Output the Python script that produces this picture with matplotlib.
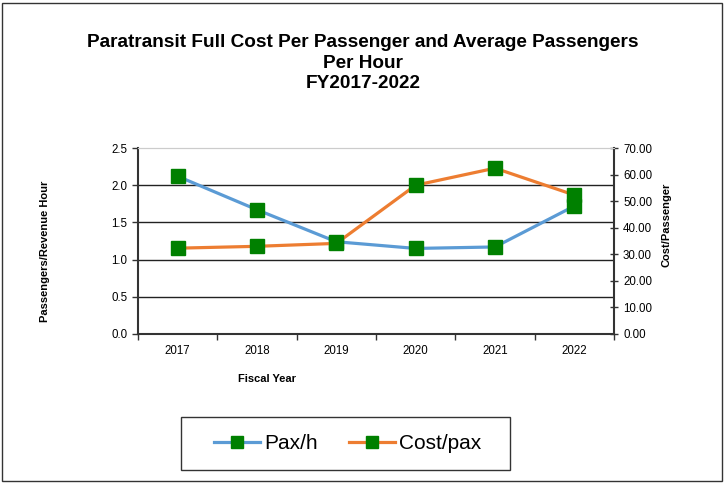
import matplotlib
matplotlib.use("Agg")
import matplotlib.pyplot as plt
from matplotlib.ticker import FormatStrFormatter, FixedLocator
from matplotlib.patches import Rectangle

years = ["2017", "2018", "2019", "2020", "2021", "2022"]
pax_per_hour = [2.12, 1.67, 1.24, 1.15, 1.17, 1.72]
cost_per_pax = [32.3, 33.0, 34.1, 56.0, 62.4, 52.3]

title = "Paratransit Full Cost Per Passenger and Average Passengers\nPer Hour\nFY2017-2022"
left_label = "Passengers/Revenue Hour"
right_label = "Cost/Passenger"
x_label = "Fiscal Year"
series_names = ["Pax/h", "Cost/pax"]

plt.rcParams['font.family'] = ['Liberation Sans', 'DejaVu Sans']

fig = plt.figure(figsize=(7.25, 4.83), dpi=100)
ax = fig.add_axes([138/725, 1-334/483, (614-138)/725, (334-148)/483])
ax2 = ax.twinx()

x = list(range(len(years)))
blue = "#5B9BD5"
orange = "#ED7D31"
green = "#008000"

l1, = ax.plot(x, pax_per_hour, color=blue, lw=2.3, marker="s", ms=10,
              mfc=green, mec=green, zorder=3)
l2, = ax2.plot(x, cost_per_pax, color=orange, lw=2.3, marker="s", ms=10,
               mfc=green, mec=green, zorder=3)

ax.set_xlim(-0.5, len(years) - 0.5)
ax.set_ylim(0, 2.5)
ax2.set_ylim(0, 70)
ax.set_yticks([0, 0.5, 1.0, 1.5, 2.0, 2.5])
ax.yaxis.set_major_formatter(FormatStrFormatter("%.1f"))
ax2.set_yticks(range(0, 71, 10))
ax2.yaxis.set_major_formatter(FormatStrFormatter("%.2f"))

ax.set_xticks(x)
ax.set_xticklabels(years)
ax.xaxis.set_minor_locator(FixedLocator([i - 0.5 for i in range(len(years) + 1)]))
ax.tick_params(axis="x", which="major", length=0, labelsize=8.3, pad=8)
ax.tick_params(axis="x", which="minor", length=4, width=1, direction="out", color="#333333")
ax.tick_params(axis="y", labelsize=8.3, length=4, width=1, direction="out", color="#333333")
ax2.tick_params(axis="y", labelsize=8.3, length=6, width=1, direction="inout", color="#333333")

for yv in [0.5, 1.0, 1.5, 2.0]:
    ax.axhline(yv, color="#222222", lw=1, zorder=1)

for s in ["left", "bottom"]:
    ax.spines[s].set_linewidth(1.5)
    ax.spines[s].set_color("#333333")
ax.spines["top"].set_color("#cccccc")
ax.spines["right"].set_visible(False)
ax2.spines["right"].set_linewidth(1.5)
ax2.spines["right"].set_color("#333333")
ax2.spines["top"].set_color("#cccccc")
ax2.spines["left"].set_visible(False)
ax2.spines["bottom"].set_visible(False)

fig.text(45/725, 1-251/483, left_label, rotation=90, ha="center", va="center",
         fontsize=8, fontweight="bold")
fig.text(667/725, 1-225/483, right_label, rotation=90, ha="center", va="center",
         fontsize=8, fontweight="bold")
fig.text(267/725, 1-379/483, x_label, ha="center", va="center",
         fontsize=8, fontweight="bold")

fig.text(363/725, 1-63/483, title, ha="center", va="center", fontsize=13.7,
         fontweight="bold", linespacing=1.3)

leg = fig.legend([l1, l2], series_names, loc="center",
                 bbox_to_anchor=(348/725, 1-443.5/483), ncol=2, fontsize=15,
                 frameon=False, handlelength=2.2, columnspacing=1.5,
                 handletextpad=0.2, markerscale=0.9)

fig.patches.append(Rectangle((181/725, 1-470/483), 329/725, 53/483, transform=fig.transFigure,
                             fill=False, edgecolor="#333333", lw=1))
fig.patches.append(Rectangle((2/725, 2/483), 720/725, 478/483, transform=fig.transFigure,
                             fill=False, edgecolor="#333333", lw=1))

fig.savefig("out.png", dpi=100)
